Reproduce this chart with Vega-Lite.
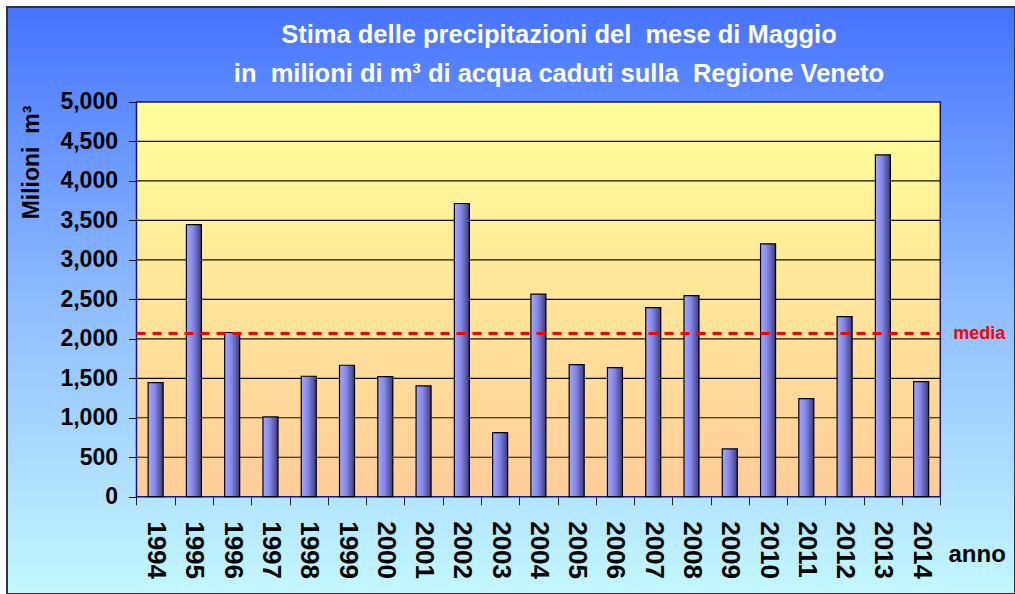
{
  "$schema": "https://vega.github.io/schema/vega-lite/v6.json",
  "width": 1008,
  "height": 587,
  "autosize": {"type": "none"},
  "padding": {"left": 7, "top": 7, "right": 0, "bottom": 0},
  "background": "white",
  "view": {
    "fill": {"gradient": "linear", "x1": 0, "y1": 0, "x2": 0, "y2": 1,
      "stops": [{"offset": 0, "color": "#4673ff"}, {"offset": 0.5, "color": "#8ebcff"}, {"offset": 1, "color": "#c4f8ff"}]},
    "stroke": "#333",
    "strokeWidth": 2
  },
  "title": {
    "text": ["Stima delle precipitazioni del\u00a0 mese di Maggio", "in\u00a0 milioni di m³ di acqua caduti sulla\u00a0 Regione Veneto"],
    "color": "white",
    "font": "Liberation Sans",
    "fontSize": 25.5,
    "fontWeight": "bold",
    "anchor": "middle",
    "frame": "group",
    "dx": 48,
    "offset": -80,
    "baseline": "top",
    "lineHeight": 39
  },
  "datasets": {
    "precip": [
      {"year": 1994, "value": 1445},
      {"year": 1995, "value": 3447},
      {"year": 1996, "value": 2080},
      {"year": 1997, "value": 1010},
      {"year": 1998, "value": 1526},
      {"year": 1999, "value": 1665},
      {"year": 2000, "value": 1522},
      {"year": 2001, "value": 1403},
      {"year": 2002, "value": 3714},
      {"year": 2003, "value": 811},
      {"year": 2004, "value": 2565},
      {"year": 2005, "value": 1673},
      {"year": 2006, "value": 1635},
      {"year": 2007, "value": 2395},
      {"year": 2008, "value": 2548},
      {"year": 2009, "value": 605},
      {"year": 2010, "value": 3203},
      {"year": 2011, "value": 1242},
      {"year": 2012, "value": 2281},
      {"year": 2013, "value": 4331},
      {"year": 2014, "value": 1458}
    ],
    "grid": [
      {"tick": 500}, {"tick": 1000}, {"tick": 1500}, {"tick": 2000}, {"tick": 2500},
      {"tick": 3000}, {"tick": 3500}, {"tick": 4000}, {"tick": 4500}
    ],
    "mean": [{"label": "media", "value": 2066}],
    "frame": [{"area": "plot"}]
  },
  "layer": [
    {
      "data": {"name": "precip"},
      "mark": {
        "type": "bar",
        "width": 15,
        "opacity": 0
      },
      "encoding": {
        "x": {
          "field": "year", "type": "quantitative",
          "scale": {"domain": [1990.1167, 2016.4516], "nice": false, "zero": false, "padding": 0},
          "axis": {
            "values": [1994, 1995, 1996, 1997, 1998, 1999, 2000, 2001, 2002, 2003, 2004, 2005, 2006, 2007, 2008, 2009, 2010, 2011, 2012, 2013, 2014, 2015],
            "format": "d",
            "labelExpr": "datum.value > 2014 ? '' : datum.label",
            "offset": -97.3,
            "domain": false,
            "grid": false,
            "ticks": true,
            "tickSize": 8,
            "tickColor": "#222",
            "tickOffset": -19.14,
            "labelOffset": 19.14,
            "labelAngle": 90,
            "labelAlign": "left",
            "labelBaseline": "middle",
            "labelPadding": 16,
            "labelFont": "Liberation Sans",
            "labelFontSize": 26,
            "labelFontWeight": "bold",
            "labelColor": "#000",
            "labelOverlap": false,
            "labelFlush": false,
            "labelBound": false,
            "title": "anno",
            "titleFont": "Liberation Sans",
            "titleFontSize": 24,
            "titleFontWeight": "bold",
            "titleColor": "#000",
            "titleAngle": 0,
            "titleX": 941,
            "titleY": 65,
            "titleAlign": "left",
            "titleBaseline": "alphabetic",
            "zindex": 1
          }
        },
        "y": {
          "field": "value", "type": "quantitative",
          "scale": {"domain": [-1232.6, 6203.4], "nice": false, "zero": false},
          "axis": {
            "values": [0, 500, 1000, 1500, 2000, 2500, 3000, 3500, 4000, 4500, 5000],
            "format": ",d",
            "offset": -129.5,
            "domain": false,
            "grid": false,
            "tickSize": 8,
            "tickColor": "#111",
            "labelPadding": 11,
            "labelFont": "Liberation Sans",
            "labelFontSize": 23,
            "labelFontWeight": "bold",
            "labelColor": "#000",
            "labelOverlap": false,
            "labelFlush": false,
            "labelBound": false,
            "title": "Milioni\u00a0 m³",
            "titleFont": "Liberation Sans",
            "titleFontSize": 23,
            "titleFontWeight": "bold",
            "titleColor": "#000",
            "titleAngle": -90,
            "titleX": -105.5,
            "titleY": 155,
            "titleAlign": "center",
            "titleBaseline": "middle",
            "zindex": 1
          }
        },
        "y2": {"datum": 0}
      }
    },
    {
      "data": {"name": "frame"},
      "mark": {
        "type": "rect",
        "fill": {"gradient": "linear", "x1": 0, "y1": 0, "x2": 0, "y2": 1,
          "stops": [{"offset": 0, "color": "#ffff99"}, {"offset": 1, "color": "#ffcc99"}]},
        "stroke": "#14147a",
        "strokeWidth": 1.5
      },
      "encoding": {
        "x": {"datum": 1993.5, "type": "quantitative"},
        "x2": {"datum": 2014.5},
        "y": {"datum": 0, "type": "quantitative"},
        "y2": {"datum": 5000}
      }
    },
    {
      "data": {"name": "grid"},
      "mark": {"type": "rule", "stroke": "#111", "strokeWidth": 1.2},
      "encoding": {
        "x": {"datum": 1993.5, "type": "quantitative"},
        "x2": {"datum": 2014.5},
        "y": {"field": "tick", "type": "quantitative"}
      }
    },
    {
      "data": {"name": "precip"},
      "mark": {
        "type": "bar",
        "width": 15,
        "fill": {"gradient": "linear", "x1": 0, "y1": 0, "x2": 1, "y2": 0,
          "stops": [{"offset": 0, "color": "#a4a8ff"}, {"offset": 0.45, "color": "#8486e8"}, {"offset": 0.85, "color": "#50509a"}, {"offset": 1, "color": "#363670"}]},
        "stroke": "#000",
        "strokeWidth": 1.2
      },
      "encoding": {
        "x": {"field": "year", "type": "quantitative"},
        "y": {"field": "value", "type": "quantitative"},
        "y2": {"datum": 0}
      }
    },
    {
      "data": {"name": "mean"},
      "mark": {"type": "rule", "stroke": "#ff0000", "strokeWidth": 3, "strokeDash": [9, 7]},
      "encoding": {
        "x": {"datum": 1993.5, "type": "quantitative"},
        "x2": {"datum": 2014.5},
        "y": {"field": "value", "type": "quantitative"}
      }
    },
    {
      "data": {"name": "mean"},
      "mark": {"type": "text", "align": "left", "baseline": "middle", "dx": 13, "font": "Liberation Sans", "fontSize": 18, "fontWeight": "bold", "color": "#ff0000"},
      "encoding": {
        "x": {"datum": 2014.5, "type": "quantitative"},
        "y": {"field": "value", "type": "quantitative"},
        "text": {"field": "label"}
      }
    }
  ]
}
